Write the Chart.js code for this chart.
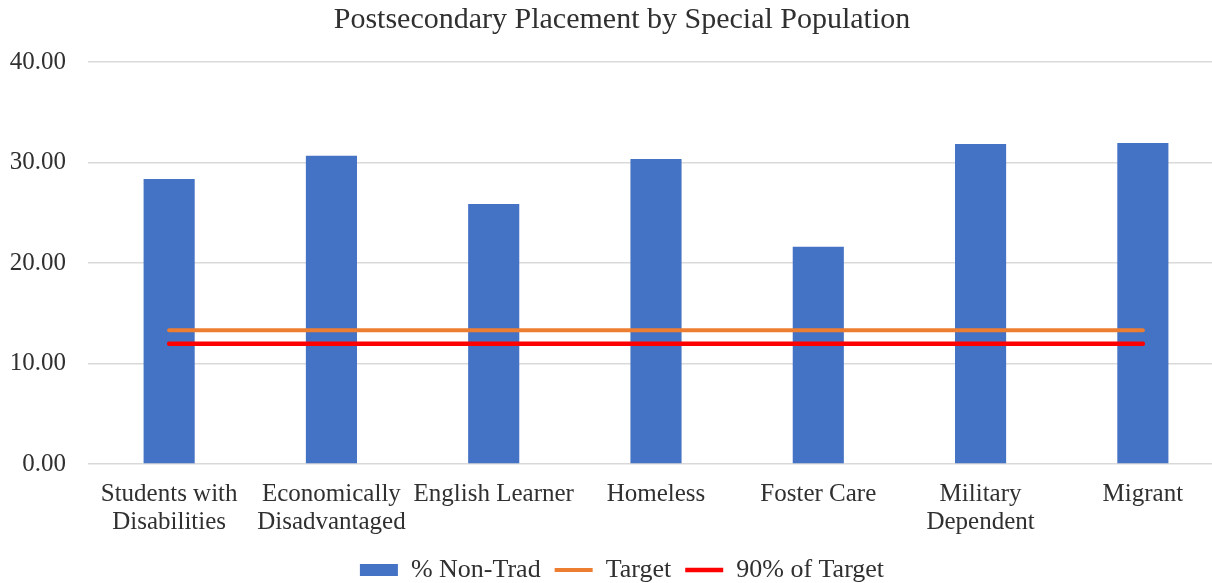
<!DOCTYPE html>
<html>
<head>
<meta charset="utf-8">
<script src="https://cdn.jsdelivr.net/npm/chart.js@4"></script>
<style>
  html, body { margin: 0; padding: 0; background: #fff; overflow: hidden; }
  #wrap { width: 1244px; height: 583px; position: relative; }
</style>
</head>
<body>
<div id="wrap"><canvas id="chart"></canvas></div>
<script>
const categories = [
  ['Students with', 'Disabilities'],
  ['Economically', 'Disadvantaged'],
  'English Learner',
  'Homeless',
  'Foster Care',
  ['Military', 'Dependent'],
  'Migrant'
];
const nonTrad = [28.36, 30.68, 25.87, 30.35, 21.62, 31.84, 31.94];
const target = [13.3, 13.3, 13.3, 13.3, 13.3, 13.3, 13.3];
const ninetyTarget = [11.97, 11.97, 11.97, 11.97, 11.97, 11.97, 11.97];
const yTicks = [0, 10, 20, 30, 40];

const textColor = '#303030';
const fontFamily = '"Liberation Serif", "Times New Roman", serif';

const ctx = document.getElementById('chart').getContext('2d');
new Chart(ctx, {
  type: 'bar',
  data: {
    labels: categories,
    datasets: [
      {
        label: '% Non-Trad',
        data: nonTrad,
        backgroundColor: '#4472C4',
        borderWidth: 0,
        categoryPercentage: 1,
        barPercentage: 0.315,
        pointStyle: 'rect',
        order: 2
      },
      {
        type: 'line',
        label: 'Target',
        data: target,
        borderColor: '#ED7D31',
        backgroundColor: '#ED7D31',
        borderWidth: 4,
        pointRadius: 0,
        pointStyle: 'line',
        borderCapStyle: 'round',
        order: 1
      },
      {
        type: 'line',
        label: '90% of Target',
        data: ninetyTarget,
        borderColor: '#FF0000',
        backgroundColor: '#FF0000',
        borderWidth: 4.5,
        pointRadius: 0,
        pointStyle: 'line',
        borderCapStyle: 'round',
        order: 0
      }
    ]
  },
  options: {
    responsive: true,
    maintainAspectRatio: false,
    animation: false,
    layout: { padding: { left: 0, right: 0, top: 0, bottom: -10 } },
    scales: {
      x: {
        grid: { display: false, drawTicks: false },
        border: { display: false },
        afterFit: (scale) => {
          scale.height = 79;
        },
        ticks: {
          color: textColor,
          font: { family: fontFamily, size: 25, lineHeight: 1.12 },
          maxRotation: 0,
          autoSkip: false,
          padding: 16
        }
      },
      y: {
        min: 0,
        max: 40,
        afterBuildTicks: (scale) => {
          scale.ticks = yTicks.map(v => ({ value: v }));
        },
        afterFit: (scale) => {
          scale.width = 88;
        },
        grid: { color: '#D9D9D9', lineWidth: 1.5, drawTicks: false },
        border: { display: false },
        ticks: {
          color: textColor,
          font: { family: fontFamily, size: 25 },
          padding: 22,
          callback: (v) => Number(v).toFixed(2)
        }
      },
      // empty right-hand spacer so the plot stops short of the canvas edge
      yRight: {
        position: 'right',
        grid: { display: false, drawTicks: false },
        border: { display: false },
        ticks: { display: false },
        afterFit: (scale) => {
          scale.width = 20;
        }
      }
    },
    plugins: {
      title: {
        display: true,
        text: 'Postsecondary Placement by Special Population',
        color: textColor,
        font: { family: fontFamily, size: 30, weight: 'normal', lineHeight: 1.2 },
        padding: { top: 2, bottom: 24 }
      },
      legend: {
        position: 'bottom',
        labels: {
          color: textColor,
          font: { family: fontFamily, size: 26, lineHeight: 1 },
          usePointStyle: true,
          pointStyleWidth: 38,
          boxHeight: 12,
          padding: 14,
          sort: (a, b) => a.datasetIndex - b.datasetIndex
        }
      },
      tooltip: { enabled: false }
    }
  }
});
</script>
</body>
</html>
